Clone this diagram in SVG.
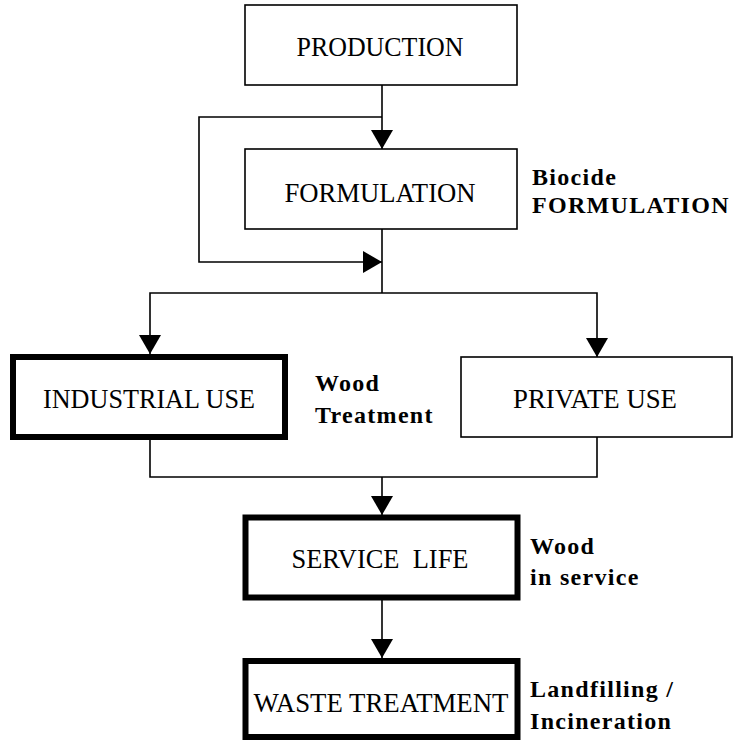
<svg xmlns="http://www.w3.org/2000/svg" width="734" height="740" viewBox="0 0 734 740">
<style>
.box{fill:#fff;stroke:#000;stroke-width:1.6}
.thick{fill:#fff;stroke:#000;stroke-width:6}
.lbl{font-family:"Liberation Serif","Times New Roman",serif;font-size:27px;fill:#000;text-anchor:middle}
.note{font-family:"Liberation Serif","Times New Roman",serif;font-size:24px;font-weight:bold;fill:#000;letter-spacing:1.3px}
.con{fill:none;stroke:#000;stroke-width:1.6}
</style>
<defs>
<marker id="arr" viewBox="0 0 19 22" refX="19" refY="11" markerWidth="19" markerHeight="22" markerUnits="userSpaceOnUse" orient="auto">
<path d="M0,0 L19,11 L0,22 z" fill="#000"/>
</marker>
</defs>
<rect width="734" height="740" fill="#fff"/>
<g id="connectors">
<path class="con" d="M382,85 V149" marker-end="url(#arr)"/>
<path class="con" d="M382,117 H199 V262 H382" marker-end="url(#arr)"/>
<path class="con" d="M382,229 V293"/>
<path class="con" d="M382,293 H150 V354" marker-end="url(#arr)"/>
<path class="con" d="M382,293 H597 V357" marker-end="url(#arr)"/>
<path class="con" d="M150,440 V477 H597 V437"/>
<path class="con" d="M382,477 V515" marker-end="url(#arr)"/>
<path class="con" d="M382,600 V658" marker-end="url(#arr)"/>
</g>
<g id="production">
<rect class="box" x="245" y="5" width="272" height="80"/>
<text class="lbl" x="380" y="56" textLength="167" lengthAdjust="spacingAndGlyphs">PRODUCTION</text>
</g>
<g id="formulation">
<rect class="box" x="245" y="149" width="272" height="80"/>
<text class="lbl" x="380" y="202" textLength="191" lengthAdjust="spacingAndGlyphs">FORMULATION</text>
</g>
<g id="biocide-note">
<text class="note" x="532" y="185">Biocide</text>
<text class="note" x="532" y="213">FORMULATION</text>
</g>
<g id="industrial-use">
<rect class="thick" x="13" y="357" width="272" height="80"/>
<text class="lbl" x="149" y="408" textLength="212" lengthAdjust="spacingAndGlyphs">INDUSTRIAL USE</text>
</g>
<g id="wood-treatment-note">
<text class="note" x="315" y="391">Wood</text>
<text class="note" x="315" y="423">Treatment</text>
</g>
<g id="private-use">
<rect class="box" x="461" y="357" width="271" height="80"/>
<text class="lbl" x="595" y="408" textLength="164" lengthAdjust="spacingAndGlyphs">PRIVATE USE</text>
</g>
<g id="service-life">
<rect class="thick" x="245.5" y="517.5" width="272" height="80"/>
<text class="lbl" x="380" y="568" xml:space="preserve" textLength="177" lengthAdjust="spacingAndGlyphs">SERVICE  LIFE</text>
</g>
<g id="service-note">
<text class="note" x="530" y="554">Wood</text>
<text class="note" x="530" y="585">in service</text>
</g>
<g id="waste-treatment">
<rect class="thick" x="245.5" y="661" width="272" height="76"/>
<text class="lbl" x="381" y="712" textLength="255" lengthAdjust="spacingAndGlyphs">WASTE TREATMENT</text>
</g>
<g id="waste-note">
<text class="note" x="530" y="697">Landfilling /</text>
<text class="note" x="530" y="729">Incineration</text>
</g>
</svg>
